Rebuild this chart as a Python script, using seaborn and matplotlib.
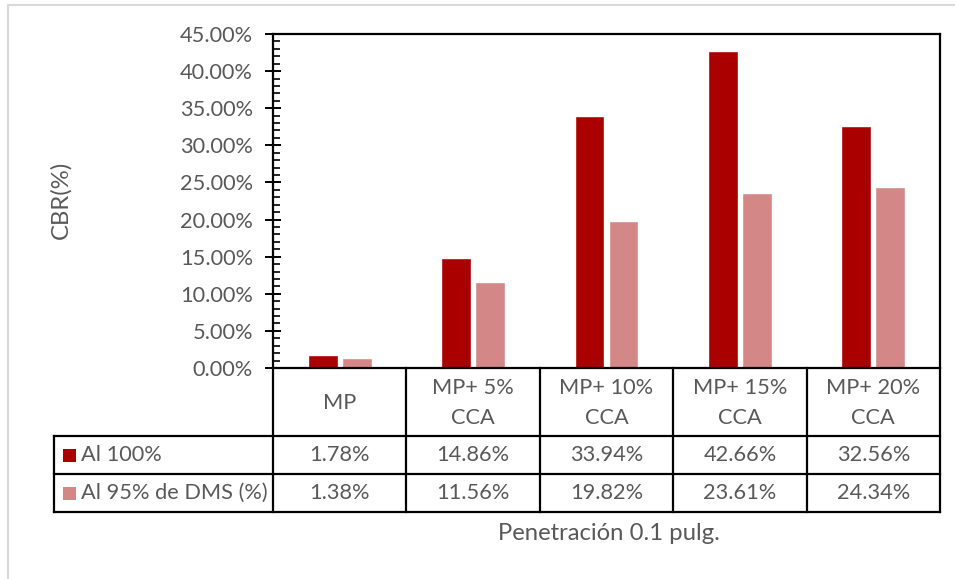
import numpy as np
import pandas as pd
import seaborn as sns
import matplotlib
matplotlib.use("Agg")
import matplotlib.pyplot as plt
from matplotlib.ticker import PercentFormatter, MultipleLocator
from matplotlib.lines import Line2D
from matplotlib.patches import Rectangle

# --- data -------------------------------------------------------------
categories = ["MP", "MP+ 5%\nCCA", "MP+ 10%\nCCA", "MP+ 15%\nCCA", "MP+ 20%\nCCA"]
series_names = ["Al 100%", "Al 95% de DMS (%)"]
cbr_100 = [0.0178, 0.1486, 0.3394, 0.4266, 0.3256]
cbr_95 = [0.0138, 0.1156, 0.1982, 0.2361, 0.2434]
y_ticks = [0.00, 0.05, 0.10, 0.15, 0.20, 0.25, 0.30, 0.35, 0.40, 0.45]
y_label = "CBR(%)"
x_label = "Penetración 0.1 pulg."

colors = ["#AA0000", "#D38787"]
text_color = "#595959"

df = pd.DataFrame({
    "categoria": categories * 2,
    "serie": [series_names[0]] * len(categories) + [series_names[1]] * len(categories),
    "cbr": cbr_100 + cbr_95,
})

# --- figure -----------------------------------------------------------
sns.set_theme(style="white")
plt.rcParams["font.family"] = ["Lato", "DejaVu Sans"]

W, H = 955, 579
fig = plt.figure(figsize=(W / 100, H / 100), dpi=100)
fig.patch.set_facecolor("white")

fs_small = 15.7
fs_title = 17.2


def fx(px):
    return px / W


def fy(py):
    return 1 - py / H


ax_left, ax_right, ax_top, ax_bottom = 273, 940, 34, 368
ax = fig.add_axes([fx(ax_left), fy(ax_bottom),
                   fx(ax_right - ax_left), (ax_bottom - ax_top) / H])

sns.barplot(data=df, x="categoria", y="cbr", hue="serie",
            palette=colors, width=0.51, gap=0.12, saturation=1,
            legend=False, ax=ax)

ax.set_ylim(y_ticks[0], y_ticks[-1])
ax.set_xlim(-0.5, len(categories) - 0.5)
ax.set_yticks(y_ticks)
ax.yaxis.set_minor_locator(MultipleLocator(0.01))
ax.yaxis.set_major_formatter(PercentFormatter(xmax=1, decimals=2))
ax.tick_params(axis="y", which="major", direction="inout", length=11,
               width=1.4, color="black", labelsize=fs_small, labelcolor=text_color,
               pad=9, left=True)
ax.tick_params(axis="y", which="minor", direction="in", length=5,
               width=1.2, color="black", left=True)
ax.tick_params(axis="x", bottom=False, labelbottom=False)
ax.set_xlabel("")
ax.set_ylabel("")
for side in ["left", "right", "top", "bottom"]:
    ax.spines[side].set_visible(True)
    ax.spines[side].set_color("black")
    ax.spines[side].set_linewidth(1.6)

# axis titles
fig.text(fx(61), fy(200), y_label, rotation=90, ha="center", va="center",
         fontsize=fs_title, color=text_color)
fig.text(fx(609), fy(534), x_label, ha="center", va="center",
         fontsize=fs_title, color=text_color)

# --- data table below the axis ---------------------------------------
row_top = ax_bottom
row_lines = [436, 474, 512]
table_left = 54
lw = 1.6

# column boundaries come from the category positions of the axis
n = len(categories)
to_px = lambda xd: ax.transData.transform((xd, 0))[0] * W / fig.bbox.width
col_edges = [to_px(i - 0.5) for i in range(n + 1)]
col_centers = [to_px(i) for i in range(n)]


def hline(x0, x1, y):
    fig.add_artist(Line2D([fx(x0), fx(x1)], [fy(y), fy(y)], color="black",
                          lw=lw, solid_capstyle="projecting"))


def vline(x, y0, y1):
    fig.add_artist(Line2D([fx(x), fx(x)], [fy(y0), fy(y1)], color="black",
                          lw=lw, solid_capstyle="projecting"))


for y in row_lines:
    hline(table_left, col_edges[-1], y)
for x in col_edges:
    vline(x, row_top, row_lines[-1])
vline(table_left, row_lines[0], row_lines[-1])

# header row with category names
header_mid = (row_top + row_lines[0]) / 2
for xc, name in zip(col_centers, categories):
    fig.text(fx(xc), fy(header_mid + 1), name, ha="center", va="center",
             fontsize=fs_small, color=text_color, linespacing=1.6)

# value rows with legend keys
for r, (name, vals, col) in enumerate(zip(series_names, [cbr_100, cbr_95], colors)):
    ytop, ybot = row_lines[r], row_lines[r + 1]
    ymid = (ytop + ybot) / 2
    key = 13
    fig.add_artist(Rectangle((fx(63), fy(ymid + key / 2)), fx(key), key / H,
                             facecolor=col, edgecolor="none"))
    fig.text(fx(81), fy(ymid), name, ha="left", va="center",
             fontsize=fs_small, color=text_color)
    for xc, v in zip(col_centers, vals):
        fig.text(fx(xc), fy(ymid), f"{v * 100:.2f}%", ha="center", va="center",
                 fontsize=fs_small, color=text_color)

# light frame of the chart area
fig.add_artist(Line2D([fx(8), fx(W)], [fy(5), fy(5)], color="#D9D9D9", lw=1.5))
fig.add_artist(Line2D([fx(8), fx(8)], [fy(5), fy(H)], color="#D9D9D9", lw=1.5))

fig.savefig("out.png", dpi=100, facecolor="white")
